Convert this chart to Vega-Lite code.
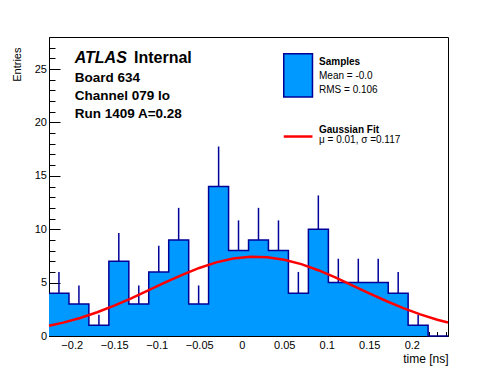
{
  "$schema": "https://vega.github.io/schema/vega-lite/v6.json",
  "width": 399,
  "height": 299,
  "autosize": {"type": "none"},
  "padding": {"left": 49, "top": 37, "right": 50, "bottom": 38},
  "background": "white",
  "config": {
    "font": "Liberation Sans",
    "view": {"stroke": "black", "strokeWidth": 1},
    "axis": {
      "domainColor": "black",
      "tickColor": "black",
      "labelColor": "black",
      "titleColor": "black",
      "labelFont": "Liberation Sans",
      "titleFont": "Liberation Sans",
      "labelFontSize": 11,
      "titleFontSize": 11,
      "titleFontWeight": "normal",
      "grid": false,
      "labelOverlap": false,
      "labelFlush": false
    }
  },
  "resolve": {"axis": {"x": "independent", "y": "independent"}},
  "datasets": {
    "bins": [
      {"lo": -0.2267, "hi": -0.2032, "mid": -0.2150, "n": 4, "top": 6},
      {"lo": -0.2032, "hi": -0.1798, "mid": -0.1915, "n": 3, "top": 4.732},
      {"lo": -0.1798, "hi": -0.1563, "mid": -0.1680, "n": 1, "top": 2},
      {"lo": -0.1563, "hi": -0.1328, "mid": -0.1446, "n": 7, "top": 9.646},
      {"lo": -0.1328, "hi": -0.1094, "mid": -0.1211, "n": 3, "top": 4.732},
      {"lo": -0.1094, "hi": -0.0859, "mid": -0.0976, "n": 6, "top": 8.449},
      {"lo": -0.0859, "hi": -0.0624, "mid": -0.0742, "n": 9, "top": 12},
      {"lo": -0.0624, "hi": -0.0390, "mid": -0.0507, "n": 3, "top": 4.732},
      {"lo": -0.0390, "hi": -0.0155, "mid": -0.0272, "n": 14, "top": 17.742},
      {"lo": -0.0155, "hi": 0.0080, "mid": -0.0038, "n": 8, "top": 10.828},
      {"lo": 0.0080, "hi": 0.0314, "mid": 0.0197, "n": 9, "top": 12},
      {"lo": 0.0314, "hi": 0.0549, "mid": 0.0432, "n": 8, "top": 10.828},
      {"lo": 0.0549, "hi": 0.0784, "mid": 0.0666, "n": 4, "top": 6},
      {"lo": 0.0784, "hi": 0.1019, "mid": 0.0901, "n": 10, "top": 13.162},
      {"lo": 0.1019, "hi": 0.1253, "mid": 0.1136, "n": 5, "top": 7.236},
      {"lo": 0.1253, "hi": 0.1488, "mid": 0.1371, "n": 5, "top": 7.236},
      {"lo": 0.1488, "hi": 0.1723, "mid": 0.1605, "n": 5, "top": 7.236},
      {"lo": 0.1723, "hi": 0.1957, "mid": 0.1840, "n": 4, "top": 6},
      {"lo": 0.1957, "hi": 0.2192, "mid": 0.2075, "n": 1, "top": 2},
      {"lo": 0.2192, "hi": 0.2426, "mid": 0.2309, "n": 0, "top": 0}
    ],
    "steps": [
      {"x": -0.2267, "y": 4},
      {"x": -0.2032, "y": 3},
      {"x": -0.1798, "y": 1},
      {"x": -0.1563, "y": 7},
      {"x": -0.1328, "y": 3},
      {"x": -0.1094, "y": 6},
      {"x": -0.0859, "y": 9},
      {"x": -0.0624, "y": 3},
      {"x": -0.0390, "y": 14},
      {"x": -0.0155, "y": 8},
      {"x": 0.0080, "y": 9},
      {"x": 0.0314, "y": 8},
      {"x": 0.0549, "y": 4},
      {"x": 0.0784, "y": 10},
      {"x": 0.1019, "y": 5},
      {"x": 0.1253, "y": 5},
      {"x": 0.1488, "y": 5},
      {"x": 0.1723, "y": 4},
      {"x": 0.1957, "y": 1},
      {"x": 0.2192, "y": 0},
      {"x": 0.2426, "y": 0}
    ],
    "fit": [
      {"x": -0.2267, "y": 0.953},
      {"x": -0.21, "y": 1.251},
      {"x": -0.19, "y": 1.690},
      {"x": -0.17, "y": 2.221},
      {"x": -0.15, "y": 2.838},
      {"x": -0.13, "y": 3.527},
      {"x": -0.11, "y": 4.263},
      {"x": -0.09, "y": 5.012},
      {"x": -0.07, "y": 5.730},
      {"x": -0.05, "y": 6.372},
      {"x": -0.03, "y": 6.893},
      {"x": -0.01, "y": 7.251},
      {"x": 0.01, "y": 7.419},
      {"x": 0.03, "y": 7.383},
      {"x": 0.05, "y": 7.146},
      {"x": 0.07, "y": 6.727},
      {"x": 0.09, "y": 6.160},
      {"x": 0.11, "y": 5.485},
      {"x": 0.13, "y": 4.751},
      {"x": 0.15, "y": 4.002},
      {"x": 0.17, "y": 3.279},
      {"x": 0.19, "y": 2.613},
      {"x": 0.21, "y": 2.025},
      {"x": 0.23, "y": 1.526},
      {"x": 0.2426, "y": 1.257}
    ],
    "atlas": [{"x": -0.1965, "y": 25.56, "t": "ATLAS"}],
    "internal": [{"x": -0.1267, "y": 25.56, "t": "Internal"}],
    "info": [
      {"x": -0.1965, "y": 23.83, "t": "Board 634"},
      {"x": -0.1965, "y": 22.12, "t": "Channel 079 lo"},
      {"x": -0.1965, "y": 20.40, "t": "Run 1409 A=0.28"}
    ],
    "leghead": [
      {"x": 0.0909, "y": 25.40, "t": "Samples"},
      {"x": 0.0909, "y": 18.98, "t": "Gaussian Fit"}
    ],
    "legtext": [
      {"x": 0.0909, "y": 24.06, "t": "Mean = -0.0"},
      {"x": 0.0909, "y": 22.75, "t": "RMS = 0.106"},
      {"x": 0.0909, "y": 18.09, "t": "μ = 0.01, σ =0.117"}
    ],
    "legbox": [{"x1": 0.0494, "x2": 0.0832, "y1": 22.37, "y2": 26.43}],
    "legline": [{"x1": 0.0494, "x2": 0.0832, "y": 18.68}]
  },
  "layer": [
    {
      "data": {"name": "steps"},
      "mark": {"type": "area", "interpolate": "step-after", "color": "#0099ff"},
      "encoding": {
        "x": {
          "field": "x", "type": "quantitative",
          "scale": {"domain": [-0.2267, 0.2426], "nice": false, "zero": false},
          "axis": {
            "orient": "bottom",
            "title": "time [ns]",
            "values": [-0.2, -0.15, -0.1, -0.05, 0, 0.05, 0.1, 0.15, 0.2],
            "format": ".2~f",
            "tickSize": -9,
            "labelPadding": 12,
            "labelBaseline": "top",
            "titleX": 399,
            "titleY": 26.5,
            "titleAlign": "right",
            "titleAnchor": null,
            "titleBaseline": "alphabetic",
            "titleFontSize": 12
          }
        },
        "y": {
          "field": "y", "type": "quantitative", "stack": null,
          "scale": {"domain": [0, 28], "nice": false, "zero": true},
          "axis": {
            "orient": "left",
            "title": "Entries",
            "values": [0, 5, 10, 15, 20, 25],
            "tickSize": -11,
            "labelPadding": 13.5,
            "titleX": -32,
            "titleY": 10,
            "titleAngle": -90,
            "titleAlign": "right",
            "titleAnchor": null,
            "titleBaseline": "middle"
          }
        }
      }
    },
    {
      "data": {"name": "steps"},
      "mark": {"type": "line", "interpolate": "step-after", "stroke": "#000099", "strokeWidth": 1.5},
      "encoding": {
        "x": {
          "field": "x", "type": "quantitative",
          "axis": {
            "orient": "bottom",
            "title": null,
            "labels": false,
            "domain": false,
            "values": [-0.22,-0.21,-0.19,-0.18,-0.17,-0.16,-0.14,-0.13,-0.12,-0.11,-0.09,-0.08,-0.07,-0.06,-0.04,-0.03,-0.02,-0.01,0.01,0.02,0.03,0.04,0.06,0.07,0.08,0.09,0.11,0.12,0.13,0.14,0.16,0.17,0.18,0.19,0.21,0.22,0.23,0.24],
            "tickSize": -4.5
          }
        },
        "y": {
          "field": "y", "type": "quantitative",
          "axis": {
            "orient": "left",
            "title": null,
            "labels": false,
            "domain": false,
            "values": [1,2,3,4,6,7,8,9,11,12,13,14,16,17,18,19,21,22,23,24,26,27],
            "tickSize": -6
          }
        }
      }
    },
    {
      "data": {"name": "bins"},
      "mark": {"type": "rule", "stroke": "#000099", "strokeWidth": 1.5, "strokeCap": "butt"},
      "encoding": {
        "x": {"field": "mid", "type": "quantitative", "axis": null},
        "y": {"field": "n", "type": "quantitative", "axis": null},
        "y2": {"field": "top"}
      }
    },
    {
      "data": {"name": "fit"},
      "mark": {"type": "line", "stroke": "#ff0000", "strokeWidth": 2.5},
      "encoding": {
        "x": {"field": "x", "type": "quantitative", "axis": null},
        "y": {"field": "y", "type": "quantitative", "axis": null}
      }
    },
    {
      "data": {"name": "legbox"},
      "mark": {"type": "rect", "fill": "#0099ff", "stroke": "#000099", "strokeWidth": 1.5},
      "encoding": {
        "x": {"field": "x1", "type": "quantitative", "axis": null},
        "x2": {"field": "x2"},
        "y": {"field": "y1", "type": "quantitative", "axis": null},
        "y2": {"field": "y2"}
      }
    },
    {
      "data": {"name": "legline"},
      "mark": {"type": "rule", "stroke": "#ff0000", "strokeWidth": 2.5},
      "encoding": {
        "x": {"field": "x1", "type": "quantitative", "axis": null},
        "x2": {"field": "x2"},
        "y": {"field": "y", "type": "quantitative", "axis": null}
      }
    },
    {
      "data": {"name": "atlas"},
      "mark": {"type": "text", "align": "left", "baseline": "alphabetic", "fontSize": 16, "fontWeight": "bold", "fontStyle": "italic", "font": "Liberation Sans", "color": "black"},
      "encoding": {
        "x": {"field": "x", "type": "quantitative", "axis": null},
        "y": {"field": "y", "type": "quantitative", "axis": null},
        "text": {"field": "t"}
      }
    },
    {
      "data": {"name": "internal"},
      "mark": {"type": "text", "align": "left", "baseline": "alphabetic", "fontSize": 16, "fontWeight": "bold", "font": "Liberation Sans", "color": "black"},
      "encoding": {
        "x": {"field": "x", "type": "quantitative", "axis": null},
        "y": {"field": "y", "type": "quantitative", "axis": null},
        "text": {"field": "t"}
      }
    },
    {
      "data": {"name": "info"},
      "mark": {"type": "text", "align": "left", "baseline": "alphabetic", "fontSize": 13.5, "fontWeight": "bold", "font": "Liberation Sans", "color": "black"},
      "encoding": {
        "x": {"field": "x", "type": "quantitative", "axis": null},
        "y": {"field": "y", "type": "quantitative", "axis": null},
        "text": {"field": "t"}
      }
    },
    {
      "data": {"name": "leghead"},
      "mark": {"type": "text", "align": "left", "baseline": "alphabetic", "fontSize": 10, "fontWeight": "bold", "font": "Liberation Sans", "color": "black"},
      "encoding": {
        "x": {"field": "x", "type": "quantitative", "axis": null},
        "y": {"field": "y", "type": "quantitative", "axis": null},
        "text": {"field": "t"}
      }
    },
    {
      "data": {"name": "legtext"},
      "mark": {"type": "text", "align": "left", "baseline": "alphabetic", "fontSize": 10, "font": "Liberation Sans", "color": "black"},
      "encoding": {
        "x": {"field": "x", "type": "quantitative", "axis": null},
        "y": {"field": "y", "type": "quantitative", "axis": null},
        "text": {"field": "t"}
      }
    }
  ]
}
